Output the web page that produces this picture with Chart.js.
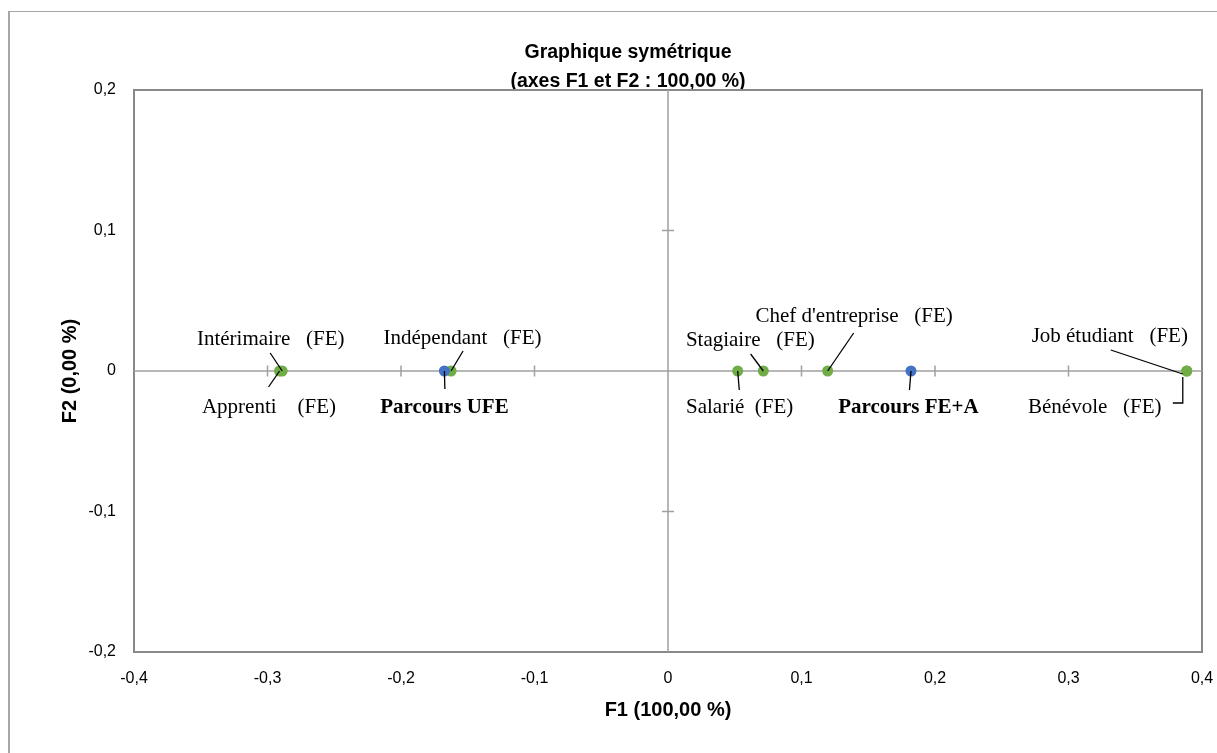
<!DOCTYPE html>
<html>
<head>
<meta charset="utf-8">
<script src="https://cdn.jsdelivr.net/npm/chart.js@4.4.0/dist/chart.umd.min.js"></script>
<style>
  html, body { margin: 0; padding: 0; background: #fff; overflow: hidden; }
  #wrap { position: relative; width: 1217px; height: 753px; }
</style>
</head>
<body>
<div id="wrap"><canvas id="chart" width="1217" height="753"></canvas></div>
<script>
// --- données (coordonnées symétriques F1 / F2) ---
const rowLabels = ['Parcours UFE', 'Parcours FE+A'];
const rowF1 = [-0.1675, 0.182];
const rowF2 = [0, 0];

const colLabels = ['Apprenti    (FE)', 'Bénévole   (FE)', "Chef d'entreprise   (FE)", 'Indépendant   (FE)',
                   'Intérimaire   (FE)', 'Job étudiant   (FE)', 'Salarié  (FE)', 'Stagiaire   (FE)'];
const colF1 = [-0.291, 0.3886, 0.1196, -0.1625, -0.289, 0.3886, 0.0522, 0.0714];
const colF2 = [0, 0, 0, 0, 0, 0, 0, 0];

const xRange = [-0.4, 0.4];
const yRange = [-0.2, 0.2];
const tickStep = 0.1;

// placement des étiquettes (décalages en pixels depuis le point) + traits de rappel
const labelPlacement = {
  'Parcours UFE':             { dx: 0,     dy: 42,  bold: true, leader: [[0.5, 18], [0, 0]] },
  'Parcours FE+A':            { dx: -2.5,  dy: 42,  bold: true, leader: [[-1.5, 19], [0, 0]] },
  'Apprenti    (FE)':         { dx: -10.5, dy: 42,  leader: [[-11, 16], [0, 0]] },
  'Bénévole   (FE)':          { dx: -92,   dy: 42,  leader: [[-14, 32], [-4, 32], [-4, 6]] },
  "Chef d'entreprise   (FE)": { dx: 26.5,  dy: -49, leader: [[26, -38], [0, 0]] },
  'Indépendant   (FE)':       { dx: 11.5,  dy: -27, leader: [[12, -20], [0, 0]] },
  'Intérimaire   (FE)':       { dx: -11.5, dy: -26, leader: [[-12, -18], [0, 0]] },
  'Job étudiant   (FE)':      { dx: -77,   dy: -29, leader: [[-76, -21], [-4, 3]] },
  'Salarié  (FE)':            { dx: 2,     dy: 42,  leader: [[1.6, 19], [0, 0]] },
  'Stagiaire   (FE)':         { dx: -13,   dy: -25, leader: [[-12.7, -17], [0, 0]] }
};

function fmt(v) {
  if (Math.abs(v) < 1e-9) return '0';
  return v.toFixed(1).replace('.', ',');
}

const frameAndLabels = {
  id: 'frameAndLabels',
  beforeDraw(chart) {
    const { ctx, chartArea: a, scales: { x, y } } = chart;
    ctx.save();
    // cadre extérieur
    ctx.fillStyle = '#a6a6a6';
    ctx.fillRect(8, 11, 2, 760);
    ctx.fillRect(8, 11, 1300, 1);

    // titre
    ctx.fillStyle = '#000';
    ctx.font = 'bold 19.5px "Liberation Sans"';
    ctx.textAlign = 'center';
    ctx.textBaseline = 'alphabetic';
    ctx.fillText('Graphique symétrique', 628, 58);
    ctx.fillText('(axes F1 et F2 : 100,00 %)', 628, 87);

    // bordure de la zone de tracé
    ctx.strokeStyle = '#898989';
    ctx.lineWidth = 2;
    ctx.strokeRect(a.left, a.top, a.right - a.left, a.bottom - a.top);

    // axes passant par zéro, avec graduations croisées
    const x0 = x.getPixelForValue(0), y0 = y.getPixelForValue(0);
    ctx.strokeStyle = '#a0a0a0';
    ctx.lineWidth = 1.5;
    ctx.beginPath();
    ctx.moveTo(a.left, y0); ctx.lineTo(a.right, y0);
    ctx.moveTo(x0, a.top); ctx.lineTo(x0, a.bottom);
    x.ticks.forEach(t => {
      if (Math.abs(t.value) < 1e-9 || t.value <= xRange[0] + 1e-9 || t.value >= xRange[1] - 1e-9) return;
      const px = x.getPixelForValue(t.value);
      ctx.moveTo(px, y0 - 5.5); ctx.lineTo(px, y0 + 5.5);
    });
    y.ticks.forEach(t => {
      if (Math.abs(t.value) < 1e-9 || t.value <= yRange[0] + 1e-9 || t.value >= yRange[1] - 1e-9) return;
      const py = y.getPixelForValue(t.value);
      ctx.moveTo(x0 - 6, py); ctx.lineTo(x0 + 6, py);
    });
    ctx.stroke();
    ctx.restore();
  },
  afterDatasetsDraw(chart) {
    const { ctx } = chart;
    ctx.save();
    chart.data.datasets.forEach((ds, di) => {
      const meta = chart.getDatasetMeta(di);
      meta.data.forEach((pt, i) => {
        const name = ds.names[i];
        const p = labelPlacement[name];
        if (!p) return;
        // trait de rappel
        ctx.strokeStyle = '#000';
        ctx.lineWidth = 1.3;
        ctx.beginPath();
        p.leader.forEach(([lx, ly], k) => {
          if (k === 0) ctx.moveTo(pt.x + lx, pt.y + ly);
          else ctx.lineTo(pt.x + lx, pt.y + ly);
        });
        ctx.stroke();
        // étiquette
        ctx.fillStyle = '#000';
        ctx.font = (p.bold ? 'bold ' : '') + '21px "Liberation Serif"';
        ctx.textAlign = 'center';
        ctx.textBaseline = 'alphabetic';
        ctx.fillText(name, pt.x + p.dx, pt.y + p.dy);
      });
    });
    ctx.restore();
  }
};

const tickFont = { family: 'Liberation Sans', size: 16 };
const titleFont = { family: 'Liberation Sans', size: 20, weight: 'bold' };

new Chart(document.getElementById('chart'), {
  type: 'scatter',
  data: {
    datasets: [
      {
        label: 'Parcours',
        names: rowLabels,
        data: rowF1.map((v, i) => ({ x: v, y: rowF2[i] })),
        backgroundColor: '#4472C4',
        borderColor: '#4472C4',
        pointRadius: 5.5,
        borderWidth: 0
      },
      {
        label: 'Modalités',
        names: colLabels,
        data: colF1.map((v, i) => ({ x: v, y: colF2[i] })),
        backgroundColor: '#70AD47',
        borderColor: '#70AD47',
        pointRadius: 5.5,
        borderWidth: 0
      }
    ]
  },
  options: {
    responsive: false,
    devicePixelRatio: 1,
    animation: false,
    layout: { padding: { left: 0, top: 90, right: 15, bottom: 0 } },
    plugins: { legend: { display: false }, tooltip: { enabled: false } },
    scales: {
      x: {
        type: 'linear',
        min: xRange[0], max: xRange[1],
        afterFit(s) { s.height = 101; s.paddingLeft = 0; s.paddingRight = 0; },
        ticks: { stepSize: tickStep, padding: 17, maxRotation: 0, font: tickFont, color: '#000', callback: fmt },
        grid: { display: false, drawTicks: false },
        border: { display: false },
        title: { display: true, text: 'F1 (100,00 %)', font: titleFont, color: '#000', padding: { top: 0, bottom: 31 } }
      },
      y: {
        type: 'linear',
        min: yRange[0], max: yRange[1],
        afterFit(s) { s.width = 134; s.paddingTop = 0; s.paddingBottom = 0; },
        ticks: { stepSize: tickStep, padding: 18, font: tickFont, color: '#000', callback: fmt },
        grid: { display: false, drawTicks: false },
        border: { display: false },
        title: { display: true, text: 'F2 (0,00 %)', font: titleFont, color: '#000', padding: { top: 58, bottom: 0 } }
      }
    }
  },
  plugins: [frameAndLabels]
});
</script>
</body>
</html>
